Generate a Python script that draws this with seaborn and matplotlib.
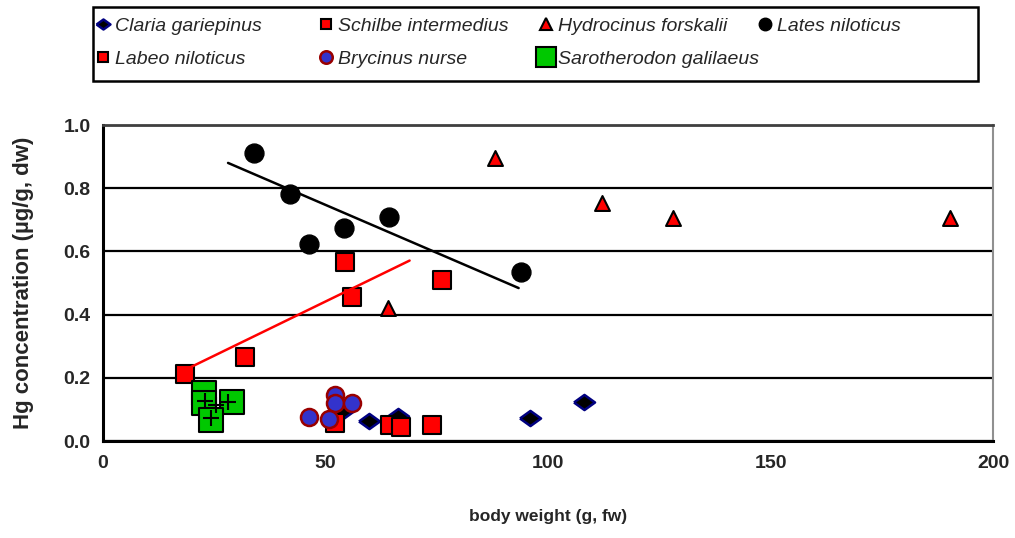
import matplotlib
matplotlib.use("Agg")
import matplotlib.pyplot as plt
from matplotlib.lines import Line2D
from matplotlib.patches import Rectangle
import seaborn as sns
import pandas as pd

# ---- data: body weight (g, fw) and Hg concentration (ug/g, dw) per species ----
claria_w = [54.0, 59.8, 66.3, 96.0, 108.2]
claria_hg = [0.095, 0.064, 0.080, 0.072, 0.124]

schilbe_w = [52.2, 64.6, 73.9]
schilbe_hg = [0.056, 0.051, 0.051]

hydro_w = [64.1, 88.0, 112.1, 128.1, 190.4]
hydro_hg = [0.421, 0.896, 0.752, 0.705, 0.705]

lates_w = [34.0, 42.1, 46.3, 54.2, 64.3, 94.0]
lates_hg = [0.911, 0.782, 0.623, 0.674, 0.709, 0.536]

labeo_w = [18.4, 31.8, 54.3, 55.9, 76.2, 67.0]
labeo_hg = [0.211, 0.266, 0.567, 0.457, 0.509, 0.045]

brycinus_w = [46.3, 52.1, 52.1, 55.9, 50.7]
brycinus_hg = [0.077, 0.146, 0.119, 0.121, 0.069]

saro_w = [22.6, 22.6, 29.0, 24.2]
saro_hg = [0.151, 0.119, 0.124, 0.066]

cross_w = [23.0, 25.4, 28.2, 24.2]
cross_hg = [0.128, 0.114, 0.124, 0.072]

# linear trend lines (start/end of each fitted segment)
lates_trend_w = [28.1, 93.4]
lates_trend_hg = [0.880, 0.484]
labeo_trend_w = [19.6, 68.9]
labeo_trend_hg = [0.233, 0.571]

x_ticks = [0, 50, 100, 150, 200]
y_ticks = [0.0, 0.2, 0.4, 0.6, 0.8, 1.0]

species = ["Claria gariepinus", "Schilbe intermedius", "Hydrocinus forskalii",
           "Lates niloticus", "Labeo niloticus", "Brycinus nurse",
           "Sarotherodon galilaeus"]

sns.set_style("white")
plt.rcParams["font.family"] = ["Liberation Sans", "DejaVu Sans"]

fig = plt.figure(figsize=(10.15, 5.38), dpi=100)
ax = fig.add_axes([103 / 1015, 1 - 441 / 538, 890 / 1015, 316 / 538])

flat_diamond = [(-1, 0), (0, 0.72), (1, 0), (0, -0.72), (-1, 0)]

styles = {
    "Claria gariepinus": dict(marker=flat_diamond, s=230, color="black",
                              edgecolor="#000080", linewidth=1.8),
    "Schilbe intermedius": dict(marker="s", s=150, color="#FF0000",
                                edgecolor="black", linewidth=1.5),
    "Hydrocinus forskalii": dict(marker="^", s=115, color="#FF0000",
                                 edgecolor="black", linewidth=1.5),
    "Lates niloticus": dict(marker="o", s=185, color="black",
                            edgecolor="black", linewidth=1.0),
    "Labeo niloticus": dict(marker="s", s=155, color="#FF0000",
                            edgecolor="black", linewidth=1.5),
    "Brycinus nurse": dict(marker="o", s=150, color="#3333CC",
                           edgecolor="#990000", linewidth=1.8),
    "Sarotherodon galilaeus": dict(marker="s", s=320, color="#00C800",
                                   edgecolor="black", linewidth=1.5),
}

series = {
    "Claria gariepinus": (claria_w, claria_hg),
    "Schilbe intermedius": (schilbe_w, schilbe_hg),
    "Hydrocinus forskalii": (hydro_w, hydro_hg),
    "Lates niloticus": (lates_w, lates_hg),
    "Labeo niloticus": (labeo_w, labeo_hg),
    "Brycinus nurse": (brycinus_w, brycinus_hg),
    "Sarotherodon galilaeus": (saro_w, saro_hg),
}

# gridlines drawn first so markers sit on top
ax.set_axisbelow(True)
ax.yaxis.grid(True, color="black", linewidth=1.6)
ax.xaxis.grid(False)

for z, name in enumerate(species):
    w, hg = series[name]
    df = pd.DataFrame({"w": w, "hg": hg})
    sns.scatterplot(data=df, x="w", y="hg", ax=ax, legend=False,
                    zorder=3 + z, **styles[name])

sns.scatterplot(x=cross_w, y=cross_hg, ax=ax, marker="+", s=120,
                color="black", linewidth=1.5, legend=False, zorder=11)

sns.lineplot(x=lates_trend_w, y=lates_trend_hg, ax=ax, color="black",
             linewidth=1.8, zorder=12)
sns.lineplot(x=labeo_trend_w, y=labeo_trend_hg, ax=ax, color="#FF0000",
             linewidth=1.8, zorder=12)

ax.set_xlim(0, 200)
ax.set_ylim(0, 1.0)
ax.set_xticks(x_ticks)
ax.set_yticks(y_ticks)
ax.set_yticklabels([f"{v:.1f}" for v in y_ticks])
ax.tick_params(axis="y", direction="inout", length=8, width=1.5,
               labelsize=14, pad=5, color="black")
ax.tick_params(axis="x", direction="out", length=6, width=1.5,
               labelsize=14, pad=4, color="black")
for lab in ax.get_xticklabels() + ax.get_yticklabels():
    lab.set_fontweight("bold")

for side in ["left", "bottom"]:
    ax.spines[side].set_color("black")
    ax.spines[side].set_linewidth(2.2)
ax.spines["top"].set_color("#404040")
ax.spines["top"].set_linewidth(2.0)
ax.spines["right"].set_color("#909090")
ax.spines["right"].set_linewidth(1.5)

ax.set_xlabel("body weight (g, fw)", fontsize=12.5, fontweight="bold",
              labelpad=27)
ax.set_ylabel("Hg concentration (µg/g, dw)", fontsize=16,
              fontweight="bold", labelpad=21)

# legend: one small legend per entry, laid out on a fixed grid in a framed box
def handle(name, size):
    st = styles[name]
    return Line2D([], [], linestyle="", marker=st["marker"], markersize=size,
                  markerfacecolor=st["color"], markeredgecolor=st["edgecolor"],
                  markeredgewidth=st["linewidth"])

legend_sizes = {
    "Claria gariepinus": 10, "Schilbe intermedius": 7,
    "Hydrocinus forskalii": 8, "Lates niloticus": 9,
    "Labeo niloticus": 7.5, "Brycinus nurse": 9,
    "Sarotherodon galilaeus": 15,
}
legend_fs = 14
fs_px = legend_fs * 100 / 72
hl, hpad = 0.8, 0.2
text_x = [115, 338, 558, 777]
row_y = [26, 59]
grid = [["Claria gariepinus", "Schilbe intermedius", "Hydrocinus forskalii",
         "Lates niloticus"],
        ["Labeo niloticus", "Brycinus nurse", "Sarotherodon galilaeus"]]
for r, names in enumerate(grid):
    for c, name in enumerate(names):
        left = text_x[c] - (hl + hpad) * fs_px
        fig.legend(handles=[handle(name, legend_sizes[name])], labels=[name],
                   loc="center left",
                   bbox_to_anchor=(left / 1015, 1 - row_y[r] / 538),
                   frameon=False, handlelength=hl, handletextpad=hpad,
                   borderpad=0, borderaxespad=0,
                   prop={"style": "italic", "size": legend_fs})

fig.patches.append(Rectangle((93 / 1015, 1 - 81 / 538), 885 / 1015, 74 / 538,
                             transform=fig.transFigure, fill=False,
                             edgecolor="black", linewidth=1.8))

fig.savefig("out.png", dpi=100)
